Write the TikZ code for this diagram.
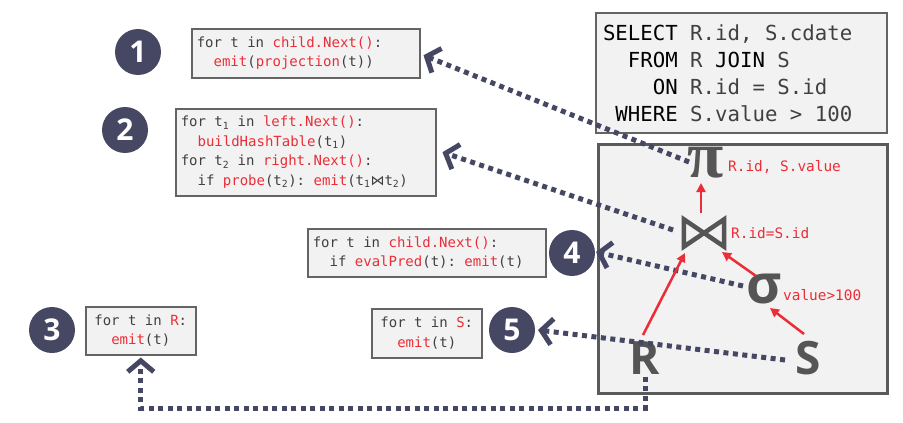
\documentclass[tikz,border=0pt]{standalone}
\usepackage{fontspec}
\setmainfont{Open Sans}
\setmonofont{DejaVu Sans Mono}
\newfontfamily\symfont{DejaVu Sans}
\newfontfamily\pifont{Liberation Serif}
\usetikzlibrary{arrows.meta}
\definecolor{navy}{RGB}{69,71,99}
\definecolor{cred}{RGB}{235,45,55}
\definecolor{cgray}{RGB}{64,64,64}
\definecolor{boxfill}{RGB}{242,242,242}
\definecolor{boxline}{RGB}{100,100,100}
\definecolor{opgray}{RGB}{85,85,85}
\newcommand\rd[1]{\textcolor{cred}{#1}}
\newcommand\kw[1]{\textcolor{black}{#1}}
\tikzset{
  codebox/.style={draw=boxline, line width=1.5pt, fill=boxfill, text=cgray,
    font=\ttfamily\fontsize{14}{19.5}\selectfont, inner xsep=5pt, inner ysep=0pt,
    anchor=north west, align=flush left},
  numcirc/.style={circle, fill=navy, text=white, minimum size=46pt, inner sep=0pt,
    font=\bfseries\fontsize{30}{30}\selectfont},
  oplabel/.style={anchor=west, text=cred, inner sep=0pt, font=\ttfamily\fontsize{14.4}{16}\selectfont},
  relname/.style={text=opgray, inner sep=0pt, font=\bfseries\fontsize{46}{46}\selectfont},
  flow/.style={draw=navy, line width=5pt, dash pattern=on 5pt off 4.5pt,
    -{Straight Barb[length=11pt, width=26pt, line width=5pt]}},
  redarrow/.style={draw=cred, line width=2.5pt, -{Triangle[length=9pt, width=9pt]}}
}
\begin{document}
\begin{tikzpicture}[x=1pt, y=-1pt]
\useasboundingbox (0,0) rectangle (903,423);
% SQL box
\node (sql) [draw=boxline, line width=2pt, fill=boxfill, anchor=north west, inner xsep=7pt, inner ysep=0pt,
  minimum width=291pt, minimum height=120pt, text width=277pt, align=flush left, text=cgray,
  font=\ttfamily\fontsize{20.7}{27}\selectfont] at (595,12)
  {\kw{SELECT} R.id, S.cdate\\
   \phantom{xx}\kw{FROM} R \kw{JOIN} S\\
   \phantom{xxxx}\kw{ON} R.id = S.id\\
   \phantom{x}\kw{WHERE} S.value > 100};
% plan box
\node (plan) [draw=boxline!90!black, line width=2.5pt, fill=boxfill, anchor=north west,
  minimum width=289pt, minimum height=249pt, inner sep=0pt] at (597,143) {};
% code boxes
\node (box1) [codebox, minimum width=228pt, minimum height=49pt, text width=218pt] at (191,28)
  {for t in \rd{child.Next()}:\\
   \phantom{xx}\rd{emit}(\rd{projection}(t))};
\node (box2) [codebox, minimum width=260pt, minimum height=87pt, text width=250pt] at (175,108)
  {for t\textsubscript{1} in \rd{left.Next()}:\\
   \phantom{xx}\rd{buildHashTable}(t\textsubscript{1})\\
   for t\textsubscript{2} in \rd{right.Next()}:\\
   \phantom{xx}if \rd{probe}(t\textsubscript{2}): \rd{emit}(t\textsubscript{1}{\symfont ⋈}t\textsubscript{2})};
\node (box4) [codebox, minimum width=238pt, minimum height=48pt, text width=228pt] at (307,228)
  {for t in \rd{child.Next()}:\\
   \phantom{xx}if \rd{evalPred}(t): \rd{emit}(t)};
\node (box3) [codebox, minimum width=110pt, minimum height=48pt, text width=100pt, align=flush center] at (85,306)
  {for t in \rd{R}:\\ \rd{emit}(t)};
\node (box5) [codebox, minimum width=110pt, minimum height=49pt, text width=100pt, align=flush center] at (371,308)
  {for t in \rd{S}:\\ \rd{emit}(t)};
% number circles
\node (c1) [numcirc] at (138,52) {1};
\node (c2) [numcirc] at (125,130) {2};
\node (c3) [numcirc] at (52,330) {3};
\node (c4) [numcirc] at (572,253) {4};
\node (c5) [numcirc] at (512,330) {5};
% operators
\node (pi) [text=opgray, inner sep=0pt, font=\pifont\bfseries\fontsize{66}{66}\selectfont] at (706,163) {π};
\node (join) [minimum width=40pt, minimum height=27pt, inner sep=0pt] at (704,233) {};
\node (sigma) [text=opgray, inner sep=0pt, font=\bfseries\fontsize{54}{54}\selectfont] at (764,289) {σ};
\node (R) [relname] at (645,358) {R};
\node (S) [relname] at (808,358) {S};
\draw[opgray, line width=4.5pt, line join=miter]
  (join.north west) -- (join.south west) -- (join.north east) -- (join.south east) -- cycle;
% labels
\node (lpi) [oplabel] at (728,167) {R.id, S.value};
\node (ljoin) [oplabel] at (731,233) {R.id=S.id};
\node (lsigma) [oplabel] at (783,295) {value>100};
% dotted flow connectors
\draw[flow] ([shift={(-17,-1)}]pi.center) -- ([shift={(3,2)}]box1.east);
\draw[flow] ([shift={(-31,-3)}]join.center) -- ([shift={(6,0)}]box2.east);
\draw[flow] ([shift={(-21,-3)}]sigma.center) -- ([shift={(24,-1)}]c4.center);
\draw[flow] ([shift={(-23,2)}]S.center) -- ([shift={(26,0)}]c5.center);
\draw[flow] ([yshift=-2pt]R.south) -- (R.south |- 0,408) -| ([yshift=-2pt]box3.south);
% red arrows
\draw[redarrow] ([shift={(-3,-20)}]join.center) -- ([shift={(-5,20)}]pi.center);
\draw[redarrow] ([shift={(-2,-23)}]R.center) -- ([shift={(-19,20)}]join.center);
\draw[redarrow] ([shift={(-8,-13)}]sigma.center) -- ([shift={(18,19)}]join.center);
\draw[redarrow] ([shift={(-4,-24)}]S.center) -- ([shift={(6,19)}]sigma.center);
\end{tikzpicture}
\end{document}
